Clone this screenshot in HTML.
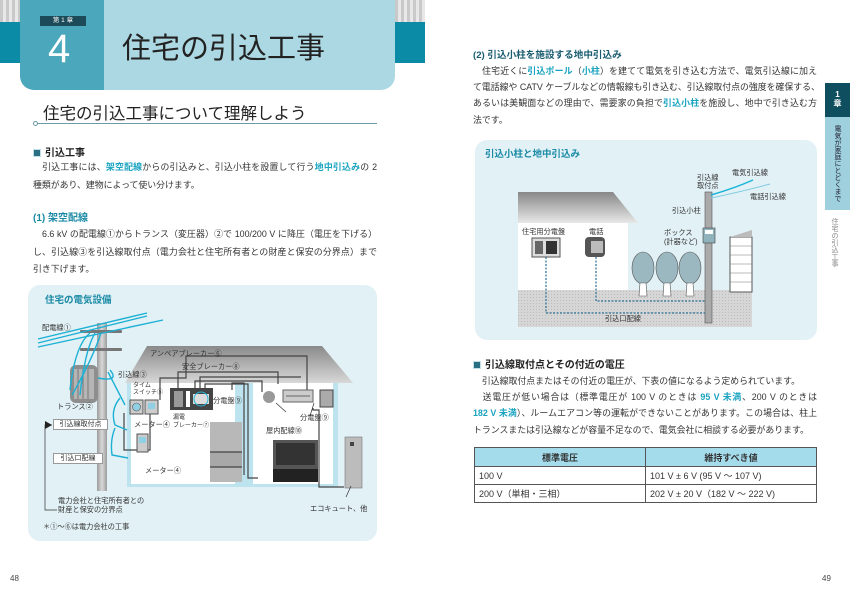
<!DOCTYPE html>
<html><head><meta charset="utf-8">
<style>
*{margin:0;padding:0;box-sizing:border-box}
body{width:850px;height:602px;background:#fff;position:relative;overflow:hidden;font-family:"Liberation Sans","Noto Sans CJK JP",sans-serif;color:#333}
.a{position:absolute;white-space:nowrap}
.ln{position:absolute;font-size:8.9px;white-space:nowrap;color:#333;text-align:justify;text-align-last:justify}
.tl{color:#1aa3c0;font-weight:bold}
.h{font-weight:bold;font-size:10px;color:#222}
.sq{display:inline-block;width:8px;height:8px;background:#2b6f84;border:1.5px solid #bfe0e8;margin-right:4px;vertical-align:-1px}
.t{font-size:7.2px;color:#333;position:absolute;white-space:nowrap}
</style></head><body>

<!-- left header -->
<div class="a" style="left:0;top:0;width:20px;height:22px;background:repeating-linear-gradient(90deg,#c9c9c9 0 3px,#e8e8e8 3px 6px)"></div>
<div class="a" style="left:395px;top:0;width:30px;height:22px;background:repeating-linear-gradient(90deg,#c9c9c9 0 3px,#e8e8e8 3px 6px)"></div>
<div class="a" style="left:0;top:22px;width:425px;height:41px;background:#0b8ba6"></div>
<div class="a" style="left:20px;top:0;width:375px;height:90px;background:#acd8e3;border-radius:0 0 14px 14px;overflow:hidden">
  <div style="position:absolute;left:0;top:0;width:84px;height:90px;background:#4ba7bc"></div>
</div>
<div class="a" style="left:40px;top:16px;width:46px;height:10px;background:#1d4a58;color:#fff;font-size:6.5px;text-align:center;line-height:10px">第 1 章</div>
<div class="a" style="left:48px;top:27px;font-size:40px;color:#fff;font-weight:300;line-height:44px">4</div>
<div class="a" style="left:122px;top:31px;font-size:29px;color:#222;line-height:36px">住宅の引込工事</div>

<div class="a" style="left:43px;top:103px;font-size:16.5px;color:#222;line-height:22px">住宅の引込工事について理解しよう</div>
<div class="a" style="left:37px;top:123px;width:340px;height:1px;background:#6b9aa8"></div>
<div class="a" style="left:33px;top:121px;width:5px;height:5px;border:1px solid #6b9aa8;border-radius:50%;background:#fff"></div>

<div class="a h" style="left:33px;top:144px"><span class="sq"></span>引込工事</div>
<div class="ln" style="left:33px;top:160px;width:344px">　引込工事には、<span class="tl">架空配線</span>からの引込みと、引込小柱を設置して行う<span class="tl">地中引込み</span>の 2</div>
<div class="a" style="left:33px;top:178px;font-size:8.9px">種類があり、建物によって使い分けます。</div>
<div class="a" style="left:33px;top:209px;font-size:10px;font-weight:bold;color:#1a8aa5">(1) 架空配線</div>
<div class="ln" style="left:33px;top:227px;width:344px">　6.6 kV の配電線①からトランス（変圧器）②で 100/200 V に降圧（電圧を下げる）</div>
<div class="ln" style="left:33px;top:245px;width:344px">し、引込線③を引込線取付点（電力会社と住宅所有者との財産と保安の分界点）まで</div>
<div class="a" style="left:33px;top:262px;font-size:8.9px">引き下げます。</div>

<!-- left diagram -->
<div class="a" style="left:28px;top:285px;width:349px;height:256px;background:#e2f1f6;border-radius:12px"></div>
<div class="a" style="left:45px;top:292px;font-size:9.5px;font-weight:bold;color:#1a8aa5">住宅の電気設備</div>
<svg class="a" style="left:0;top:0" width="425" height="602">
 <defs><linearGradient id="rg" x1="0" y1="0" x2="0" y2="1"><stop offset="0" stop-color="#8a8a8a"/><stop offset="1" stop-color="#d8d8d8"/></linearGradient>
 <linearGradient id="gg" x1="0" y1="0" x2="1" y2="0"><stop offset="0" stop-color="#9c9c9c"/><stop offset=".5" stop-color="#d8d8d8"/><stop offset="1" stop-color="#9c9c9c"/></linearGradient></defs>
 <polygon points="147,346 322,346 353,383 125,383" fill="url(#rg)"/>
 <rect x="127" y="383" width="211" height="104" fill="#bde3ee"/>
 <rect x="131" y="383" width="104" height="101" fill="#fff"/>
 <rect x="253" y="383" width="80" height="101" fill="#fff"/>
 <g fill="none" stroke="#444" stroke-width="1.2">
  <polyline points="160,400 160,378 186,378 186,356 307,356 307,390"/>
  <polyline points="178,390 178,372 278,372 278,384"/>
  <polyline points="200,390 200,377 301,377"/>
  <polyline points="195,390 195,381 262,381 262,392"/>
  <polyline points="232,390 232,383 244,383 244,475"/>
  <polyline points="205,390 205,384 248,384 248,478 258,478"/>
  <polyline points="313,408 313,410 319,410 319,487 344,487"/>
  <polyline points="124,413 124,450 150,450 150,412"/>
 </g>
 <rect x="97" y="323" width="10" height="168" fill="url(#gg)"/>
 <rect x="80" y="330" width="42" height="3" fill="#777" rx="1"/>
 <rect x="80" y="348" width="42" height="3" fill="#777" rx="1"/>
 <rect x="70" y="365" width="28" height="38" rx="6" fill="#8e8e8e"/>
 <rect x="74" y="369" width="20" height="30" fill="#b5b5b5"/>
 <g stroke="#777" stroke-width="1"><line x1="78" y1="369" x2="78" y2="399"/><line x1="83" y1="369" x2="83" y2="399"/><line x1="88" y1="369" x2="88" y2="399"/></g>
 <g stroke="#1cb0d4" stroke-width="1.4" fill="none">
  <line x1="38" y1="339" x2="147" y2="313"/>
  <line x1="38" y1="343" x2="147" y2="316"/>
  <line x1="38" y1="347" x2="163" y2="320"/>
  <path d="M90,333 Q75,345 70,390"/><path d="M95,333 Q85,350 80,395"/><path d="M101,333 Q92,360 72,395"/>
  <path d="M98,378 Q120,382 110,370"/><path d="M108,372 L125,405"/><path d="M120,398 Q110,410 115,425 L127,430"/>
  <path d="M115,428 Q110,440 112,455 L128,458"/>
 </g>
 <rect x="130" y="400" width="13" height="14" fill="#ccc" stroke="#555"/>
 <circle cx="136.5" cy="407" r="4" fill="#8fd0e4" stroke="#555" stroke-width=".6"/>
 <rect x="145" y="400" width="13" height="14" fill="#ccc" stroke="#555"/>
 <rect x="148" y="403" width="7" height="6" fill="#8fd0e4"/>
 <rect x="137" y="434" width="11" height="18" fill="#ccc" stroke="#555"/>
 <rect x="139" y="437" width="7" height="6" fill="#8fd0e4"/>
 <rect x="170" y="388" width="43" height="22" fill="#444"/>
 <rect x="174" y="391" width="9" height="16" fill="#999"/>
 <rect x="186" y="391" width="4" height="16" fill="#fff"/>
 <rect x="193" y="394" width="16" height="10" fill="#ddd"/>
 <circle cx="201" cy="399" r="7" fill="none" stroke="#28b5d6"/>
 <circle cx="269" cy="397" r="6" fill="#999"/>
 <rect x="283" y="390" width="30" height="12" fill="#ccc" stroke="#666"/>
 <line x1="286" y1="396" x2="310" y2="396" stroke="#666"/>
 <rect x="320" y="390" width="13" height="17" fill="#aaa" stroke="#444"/>
 <rect x="210" y="422" width="32" height="60" fill="#b8b8b8"/>
 <rect x="210" y="452" width="32" height="15" fill="#a8a8a8"/>
 <line x1="210" y1="467" x2="242" y2="467" stroke="#555" stroke-width="1.5"/>
 <line x1="210" y1="452" x2="242" y2="452" stroke="#555" stroke-width="1.5"/>
 <rect x="273" y="440" width="45" height="29" fill="#555"/>
 <rect x="276" y="443" width="39" height="22" fill="#333"/>
 <rect x="273" y="469" width="45" height="13" fill="#222"/>
 <rect x="345" y="437" width="17" height="51" fill="#bcbcbc" stroke="#777" stroke-width=".6"/>
 <rect x="350" y="442" width="4" height="4" fill="#444"/>
 <g stroke="#333" stroke-width=".7" fill="none">
  <polyline points="52,425 45,425 45,510 57,510"/>
  <line x1="276" y1="403" x2="286" y2="412"/>
  <line x1="314" y1="403" x2="310" y2="416"/>
  <line x1="346" y1="497" x2="351" y2="486"/>
 </g>
 <polygon points="45,421 52,425 45,429" fill="#222"/>
</svg>
<div class="t" style="left:42px;top:323px">配電線①</div>
<div class="t" style="left:57px;top:402px">トランス②</div>
<div class="t" style="left:118px;top:370px">引込線③</div>
<div class="t" style="left:133px;top:383px;font-size:6px;line-height:7px">タイム<br>スイッチ⑤</div>
<div class="t" style="left:134px;top:420px">メーター④</div>
<div class="t" style="left:145px;top:466px">メーター④</div>
<div class="t" style="left:150px;top:349px">アンペアブレーカー⑥</div>
<div class="t" style="left:182px;top:362px">安全ブレーカー⑧</div>
<div class="t" style="left:213px;top:396px">分電盤⑨</div>
<div class="t" style="left:173px;top:414px;font-size:6px;line-height:8px">漏電<br>ブレーカー⑦</div>
<div class="t" style="left:266px;top:426px">屋内配線⑩</div>
<div class="t" style="left:300px;top:413px">分電盤⑨</div>
<div class="a" style="left:53px;top:419px;width:55px;height:11px;background:#fff;border:1px solid #999;font-size:7px;line-height:9px;text-align:center">引込線取付点</div>
<div class="a" style="left:53px;top:453px;width:50px;height:11px;background:#fff;border:1px solid #999;font-size:7px;line-height:9px;text-align:center">引込口配線</div>
<div class="t" style="left:310px;top:504px">エコキュート、他</div>
<div class="t" style="left:58px;top:496px;line-height:9px">電力会社と住宅所有者との<br>財産と保安の分界点</div>
<div class="t" style="left:43px;top:522px">＊①〜⑥は電力会社の工事</div>
<div class="a" style="left:10px;top:574px;font-size:8px;color:#444">48</div>

<!-- right page -->
<div class="a" style="left:473px;top:47px;font-size:9.6px;font-weight:bold;color:#1a5d70">(2) 引込小柱を施設する地中引込み</div>
<div class="ln" style="left:473px;top:64px;width:344px">　住宅近くに<span class="tl">引込ポール</span>（<span class="tl">小柱</span>）を建てて電気を引き込む方法で、電気引込線に加え</div>
<div class="ln" style="left:473px;top:80px;width:344px">て電話線や CATV ケーブルなどの情報線も引き込む、引込線取付点の強度を確保する、</div>
<div class="ln" style="left:473px;top:96px;width:344px">あるいは美観面などの理由で、需要家の負担で<span class="tl">引込小柱</span>を施設し、地中で引き込む方</div>
<div class="a" style="left:473px;top:113px;font-size:8.9px">法です。</div>

<div class="a" style="left:475px;top:140px;width:342px;height:200px;background:#e2f1f6;border-radius:12px"></div>
<div class="a" style="left:485px;top:146px;font-size:9.5px;font-weight:bold;color:#1a8aa5">引込小柱と地中引込み</div>
<svg class="a" style="left:425px;top:0" width="425" height="602">
 <defs><linearGradient id="r2" x1="0" y1="0" x2="0" y2="1"><stop offset="0" stop-color="#888"/><stop offset="1" stop-color="#e8e8e8"/></linearGradient>
 <pattern id="dt" width="3" height="3" patternUnits="userSpaceOnUse"><rect width="3" height="3" fill="#d6d6d6"/><rect width="1" height="1" fill="#bbb"/></pattern></defs>
 <rect x="93" y="290" width="234" height="37" fill="url(#dt)"/>
 <polygon points="93,192 188,192 213,223 93,223" fill="url(#r2)"/>
 <rect x="93" y="223" width="110" height="67" fill="#fff"/>
 <rect x="107" y="238" width="28" height="19" fill="#ddd" stroke="#555"/>
 <rect x="110" y="241" width="8" height="13" fill="#666"/>
 <rect x="121" y="241" width="11" height="13" fill="#333"/>
 <rect x="160" y="237" width="20" height="20" rx="4" fill="#555"/>
 <rect x="166" y="241" width="12" height="12" fill="#bbb"/>
 <g fill="#9bb8c0" stroke="#555" stroke-width=".6">
  <ellipse cx="218" cy="268" rx="11" ry="16"/><ellipse cx="242" cy="268" rx="11" ry="16"/><ellipse cx="265" cy="268" rx="11" ry="16"/>
 </g>
 <g fill="#fff" stroke="#555" stroke-width=".6">
  <polygon points="215,283 221,283 222,296 214,296"/><polygon points="239,283 245,283 246,296 238,296"/><polygon points="262,283 268,283 269,296 261,296"/>
 </g>
 <rect x="280" y="192" width="7" height="131" fill="#aaa" stroke="#555" stroke-width=".6"/>
 <rect x="278" y="228" width="12" height="15" fill="#8fb2bd" stroke="#444" stroke-width=".6"/>
 <rect x="280" y="230" width="8" height="4" fill="#fff"/>
 <rect x="305" y="237" width="22" height="55" fill="#fff" stroke="#555"/>
 <g stroke="#777" stroke-width=".5">
  <line x1="305" y1="246" x2="327" y2="246"/><line x1="305" y1="255" x2="327" y2="255"/><line x1="305" y1="264" x2="327" y2="264"/><line x1="305" y1="273" x2="327" y2="273"/><line x1="305" y1="282" x2="327" y2="282"/>
 </g>
 <polygon points="305,237 327,230 327,237" fill="#bbb"/>
 <path d="M286,195 Q310,188 328,180" stroke="#17b3d8" stroke-width="1.5" fill="none"/>
 <path d="M286,198 Q315,192 345,184" stroke="#7fcbe0" stroke-width="1" fill="none"/>
 <g stroke="#2a6f95" stroke-width="1.2" stroke-dasharray="2,1.5" fill="none">
  <polyline points="121,257 121,313 280,313"/>
  <polyline points="171,257 171,301 280,301"/>
 </g>
</svg>
<div class="t" style="left:697px;top:174px;line-height:8px;text-align:center">引込線<br>取付点</div>
<div class="t" style="left:732px;top:168px">電気引込線</div>
<div class="t" style="left:750px;top:192px">電話引込線</div>
<div class="t" style="left:672px;top:206px">引込小柱</div>
<div class="t" style="left:664px;top:228px;line-height:9px">ボックス<br>(計器など)</div>
<div class="t" style="left:522px;top:227px">住宅用分電盤</div>
<div class="t" style="left:589px;top:227px">電話</div>
<div class="t" style="left:605px;top:314px">引込口配線</div>

<!-- side tab -->
<div class="a" style="left:825px;top:83px;width:25px;height:34px;background:#0e4e5e;color:#fff;font-size:8px;font-weight:bold;text-align:center;line-height:9px;padding-top:7px">1<br>章</div>
<div class="a" style="left:825px;top:117px;width:25px;height:93px;background:#9ed0de;font-size:7px;color:#223;writing-mode:vertical-rl;padding:8px 8px 0 0;line-height:9px">電気が家庭にとどくまで</div>
<div class="a" style="left:829px;top:218px;font-size:7px;color:#888;writing-mode:vertical-rl">住宅の引込工事</div>

<div class="a h" style="left:473px;top:356px"><span class="sq"></span>引込線取付点とその付近の電圧</div>
<div class="a" style="left:473px;top:374px;font-size:8.9px">　引込線取付点またはその付近の電圧が、下表の値になるよう定められています。</div>
<div class="ln" style="left:473px;top:390px;width:344px">　送電圧が低い場合は（標準電圧が 100 V のときは <span class="tl">95 V 未満</span>、200 V のときは</div>
<div class="ln" style="left:473px;top:406px;width:344px"><span class="tl">182 V 未満</span>）、ルームエアコン等の運転ができないことがあります。この場合は、柱上</div>
<div class="a" style="left:473px;top:423px;font-size:8.9px">トランスまたは引込線などが容量不足なので、電気会社に相談する必要があります。</div>

<table class="a" style="left:474px;top:447px;width:343px;border-collapse:collapse;font-size:9px;color:#333">
<tr style="height:19px;background:#a5dcec;font-weight:bold"><td style="border:1px solid #555;width:171px;text-align:center">標準電圧</td><td style="border:1px solid #555;text-align:center">維持すべき値</td></tr>
<tr style="height:18px"><td style="border:1px solid #555;padding-left:4px">100 V</td><td style="border:1px solid #555;padding-left:4px">101 V ± 6 V (95 V ～ 107 V)</td></tr>
<tr style="height:18px"><td style="border:1px solid #555;padding-left:4px">200 V（単相・三相）</td><td style="border:1px solid #555;padding-left:4px">202 V ± 20 V（182 V ～ 222 V)</td></tr>
</table>
<div class="a" style="left:822px;top:574px;font-size:8px;color:#444">49</div>
</body></html>
